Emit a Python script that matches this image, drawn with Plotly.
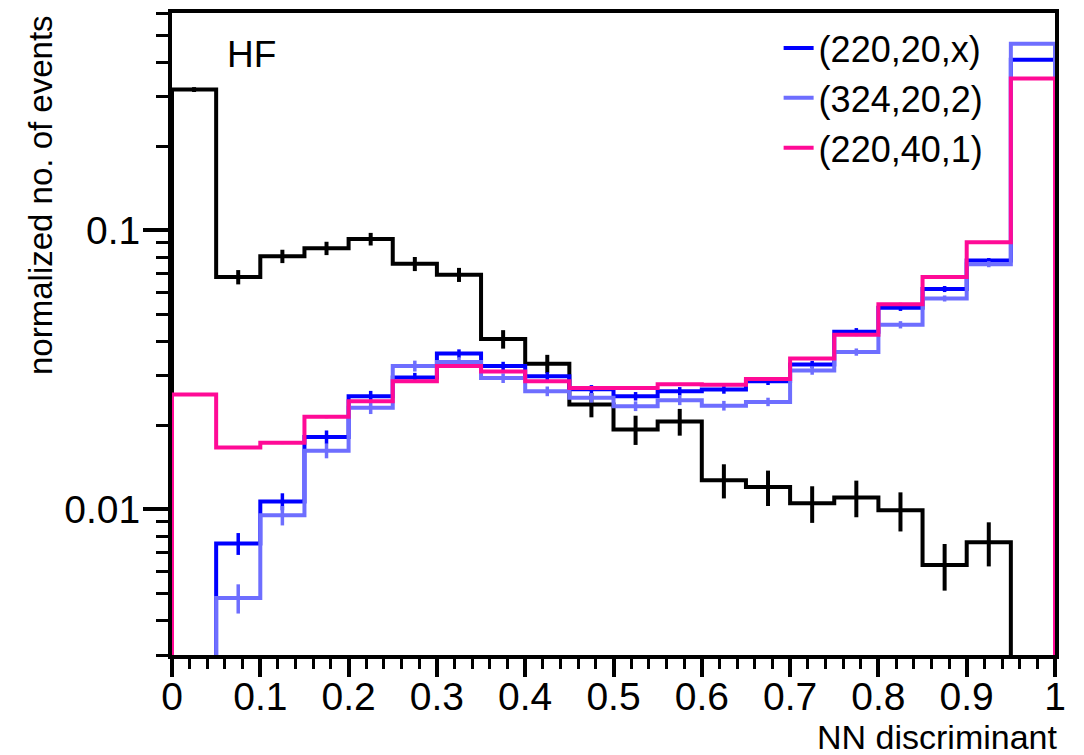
import math
import plotly.graph_objects as go

# NN discriminant binning (20 bins of width 0.05)
bin_edges = [0.0, 0.05, 0.1, 0.15, 0.2, 0.25, 0.3, 0.35, 0.4, 0.45, 0.5,
             0.55, 0.6, 0.65, 0.7, 0.75, 0.8, 0.85, 0.9, 0.95, 1.0]
bin_centers = [0.025, 0.075, 0.125, 0.175, 0.225, 0.275, 0.325, 0.375, 0.425, 0.475,
               0.525, 0.575, 0.625, 0.675, 0.725, 0.775, 0.825, 0.875, 0.925, 0.975]

# HF background (normalized)
hf_background = [0.319, 0.0679, 0.0806, 0.0861, 0.0929, 0.0757, 0.0692, 0.0407, 0.0332, 0.0237,
                 0.0193, 0.0206, 0.0127, 0.0120, 0.0105, 0.0110, 0.0099, 0.0063, 0.0076, 0.0]
hf_background_relerr = [0.02, 0.059, 0.055, 0.055, 0.052, 0.058, 0.058, 0.076, 0.076, 0.10,
                        0.12, 0.11, 0.14, 0.145, 0.15, 0.15, 0.16, 0.19, 0.18, 0.0]

# signal mass points
sig_220_20_x = [0.0, 0.00753, 0.01065, 0.01814, 0.02539, 0.0296, 0.03611, 0.03259, 0.02991, 0.02689,
                0.02539, 0.02645, 0.02686, 0.02871, 0.0330, 0.04325, 0.05264, 0.06151, 0.07784, 0.4083]
sig_220_20_x_relerr = [0.0, 0.09, 0.07, 0.055, 0.045, 0.04, 0.035, 0.035, 0.035, 0.035,
                       0.035, 0.035, 0.035, 0.03, 0.03, 0.03, 0.025, 0.025, 0.02, 0.01]

sig_324_20_2 = [0.0, 0.0048, 0.0095, 0.01618, 0.02307, 0.03259, 0.03368, 0.02949, 0.02645, 0.02508,
                0.02339, 0.02457, 0.02349, 0.02423, 0.03141, 0.03656, 0.04579, 0.05689, 0.0755, 0.4656]
sig_324_20_2_relerr = [0.0, 0.12, 0.08, 0.06, 0.05, 0.045, 0.04, 0.04, 0.04, 0.04,
                       0.04, 0.04, 0.04, 0.035, 0.035, 0.03, 0.03, 0.025, 0.025, 0.01]

sig_220_40_1 = [0.02574, 0.01662, 0.01731, 0.02143, 0.02436, 0.02871, 0.03259, 0.03115, 0.02871, 0.02717,
                0.02717, 0.02801, 0.0279, 0.02926, 0.03467, 0.04219, 0.05426, 0.06786, 0.09042, 0.3494]
sig_220_40_1_relerr = [0.012] * 20

x_tick_labels = ["0", "0.1", "0.2", "0.3", "0.4", "0.5", "0.6", "0.7", "0.8", "0.9", "1"]
x_tick_vals = [0, 0.1, 0.2, 0.3, 0.4, 0.5, 0.6, 0.7, 0.8, 0.9, 1]
y_tick_vals = [0.01, 0.1]
y_tick_labels = ["0.01", "0.1"]
y_minor_vals = [0.003, 0.004, 0.005, 0.006, 0.007, 0.008, 0.009,
                0.02, 0.03, 0.04, 0.05, 0.06, 0.07, 0.08, 0.09,
                0.2, 0.3, 0.4, 0.5, 0.6]

y_min, y_max = 0.003, 0.6
FLOOR = 1e-4  # empty bins are drawn down to below the axis floor

FONT = "Liberation Sans, Arial, sans-serif"


def step_trace(values, color, name, show):
    vals = [v if v > 0 else FLOOR for v in values]
    xs = [bin_edges[0]] + bin_edges[:-1] + [bin_edges[-1], bin_edges[-1]]
    ys = [FLOOR] + vals + [vals[-1], FLOOR]
    return go.Scatter(x=xs, y=ys, mode="lines", line=dict(color=color, width=4, shape="hv"),
                      name=name, showlegend=show, hoverinfo="skip")


def err_trace(values, relerr, color, thickness):
    ys, errs = [], []
    for v, r in zip(values, relerr):
        if v > 0:
            ys.append(v)
            errs.append(v * r)
        else:
            ys.append(None)
            errs.append(None)
    return go.Scatter(x=bin_centers, y=ys, mode="markers",
                      marker=dict(size=1, color=color, opacity=0),
                      error_y=dict(type="data", array=errs, arrayminus=errs, symmetric=False,
                                   color=color, thickness=thickness, width=0),
                      showlegend=False, hoverinfo="skip")


series = [
    (hf_background, hf_background_relerr, "#000000", None),
    (sig_220_20_x, sig_220_20_x_relerr, "#0000FF", "(220,20,x)"),
    (sig_324_20_2, sig_324_20_2_relerr, "#6E6EFF", "(324,20,2)"),
    (sig_220_40_1, sig_220_40_1_relerr, "#FF0A96", "(220,40,1)"),
]

fig = go.Figure()
for vals, rel, col, name in series:
    fig.add_trace(err_trace(vals, rel, col, 4 if name is None else 3.5))
    fig.add_trace(step_trace(vals, col, name if name else "", name is not None))

fig.update_layout(
    width=1084, height=755,
    margin=dict(l=172, r=29, t=9, b=100),
    paper_bgcolor="white", plot_bgcolor="white",
    font=dict(family=FONT, color="black"),
    showlegend=True,
    legend=dict(x=0.687, y=0.992, xanchor="left", yanchor="top",
                bgcolor="rgba(0,0,0,0)", borderwidth=0,
                font=dict(family=FONT, size=36, color="black"),
                tracegroupgap=0),
    xaxis=dict(range=[0, 1], showgrid=False, zeroline=False,
               showline=True, linecolor="black", linewidth=4, mirror=True,
               ticks="outside", ticklen=18, tickwidth=3.5, tickcolor="black",
               tickvals=x_tick_vals, ticktext=x_tick_labels,
               ticklabelstandoff=-14,
               tickfont=dict(family=FONT, size=39, color="black"),
               minor=dict(ticks="outside", ticklen=10, tickwidth=3, tickcolor="black",
                          dtick=0.02, showgrid=False)),
    yaxis=dict(type="log", range=[math.log10(y_min), math.log10(y_max)],
               showgrid=False, zeroline=False,
               showline=True, linecolor="black", linewidth=4, mirror=True,
               ticks="outside", ticklen=25, tickwidth=3.5, tickcolor="black",
               tickvals=y_tick_vals, ticktext=y_tick_labels,
               ticklabelstandoff=-5,
               tickfont=dict(family=FONT, size=39, color="black"),
               minor=dict(ticks="outside", ticklen=12, tickwidth=3, tickcolor="black",
                          tickmode="array", tickvals=y_minor_vals, showgrid=False)),
    annotations=[
        dict(text="HF", x=0.06, y=0.935, xref="paper", yref="paper",
             xanchor="left", yanchor="middle", showarrow=False,
             font=dict(family=FONT, size=37, color="black")),
        dict(text="NN discriminant", x=1.004, y=-0.127, xref="paper", yref="paper",
             xanchor="right", yanchor="middle", showarrow=False,
             font=dict(family=FONT, size=34, color="black")),
        dict(text="normalized no. of events", x=-0.1495, y=1.0, xref="paper", yref="paper",
             xanchor="center", yanchor="top", textangle=-90, showarrow=False,
             font=dict(family=FONT, size=33, color="black")),
    ],
)

fig.write_html("out.html")
